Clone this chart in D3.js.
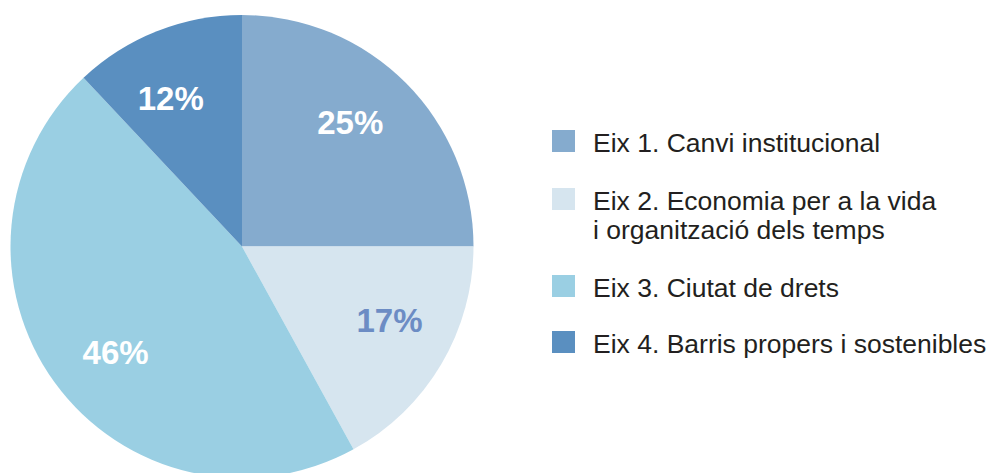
<!DOCTYPE html>
<html lang="ca">
<head>
    <meta charset="UTF-8">
    <title>Eixos</title>
    <style>
        body { margin: 0; background: #fff; }
        text { font-family: "Liberation Sans", Arial, Helvetica, sans-serif; }
    </style>
</head>
<body>
<div id="chart"></div>

<script src="https://d3js.org/d3.v7.min.js"></script>
<script>
// data
const categories = ["Eix 1. Canvi institucional",
                    "Eix 2. Economia per a la vida\ni organització dels temps",
                    "Eix 3. Ciutat de drets",
                    "Eix 4. Barris propers i sostenibles"];
const values = [25, 17, 46, 12];
const colors = ["#85abce", "#d6e5ef", "#9acfe3", "#5a8fc0"];
const labelColors = ["#ffffff", "#6c8cc4", "#ffffff", "#ffffff"];

let vp = {width: 990, height: 473};
let cx = 242, cy = 246.5, radius = 231.5;

var svg = d3.select("#chart").append("svg")
    .attr("width", vp.width)
    .attr("height", vp.height);

var pie = d3.pie().sort(null).value(d => d);
var arcs = pie(values);

var arc = d3.arc().innerRadius(0).outerRadius(radius);

var g = svg.append("g")
    .attr("transform", "translate(" + cx + "," + cy + ")");

g.selectAll("path")
    .data(arcs)
    .enter()
    .append("path")
    .attr("d", arc)
    .style("fill", (d, i) => colors[i]);

// percent labels, placed a bit before the middle of each slice
var labelR = 165, shift = 4 * Math.PI / 180;
function labelPos(d) {
    var a = (d.startAngle + d.endAngle) / 2 - shift;
    return [labelR * Math.sin(a), -labelR * Math.cos(a)];
}

g.selectAll(".lbl")
    .data(arcs)
    .enter()
    .append("text")
    .attr("class", "lbl")
    .attr("transform", d => "translate(" + labelPos(d) + ")")
    .attr("text-anchor", "middle")
    .attr("dy", "0.36em")
    .style("font-size", "33px")
    .style("font-weight", "bold")
    .style("fill", (d, i) => labelColors[i])
    .text(d => d.data + "%");

// legend
var legend = svg.append("g").attr("transform", "translate(552,0)");
var baselines = [152, 210, 297, 353];

var item = legend.selectAll(".item")
    .data(categories)
    .enter()
    .append("g")
    .attr("class", "item")
    .attr("transform", (d, i) => "translate(0," + baselines[i] + ")");

item.append("rect")
    .attr("x", 0)
    .attr("y", -22)
    .attr("width", 23)
    .attr("height", 22)
    .style("fill", (d, i) => colors[i]);

item.append("text")
    .attr("x", 41)
    .style("font-size", "26.5px")
    .style("fill", "#231f20")
    .selectAll("tspan")
    .data(d => d.split("\n"))
    .enter()
    .append("tspan")
    .attr("x", 41)
    .attr("dy", (d, i) => i === 0 ? 0 : 29)
    .text(d => d);
</script>
</body>
</html>
